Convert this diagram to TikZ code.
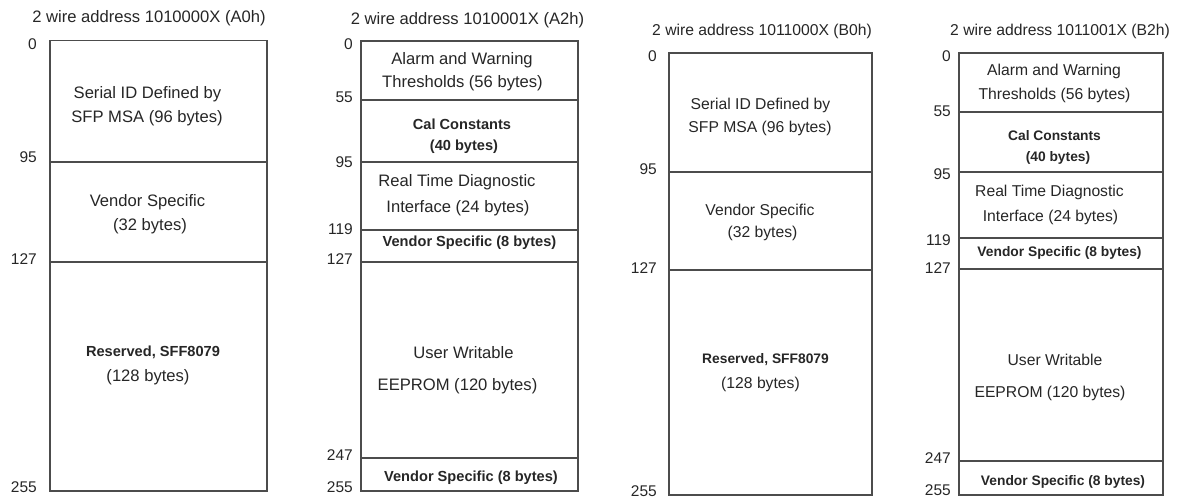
\documentclass[tikz,border=0pt]{standalone}
\usepackage{fontspec}
\setmainfont{Liberation Sans}
\begin{document}
\begin{tikzpicture}[x=1pt,y=-1pt,
  box/.style={draw=black!70, line width=1.2pt},
  txA/.style={anchor=base, text=black!85, font=\fontsize{16.6}{18}\selectfont, inner sep=0pt},
  bfA/.style={anchor=base, text=black!85, font=\fontsize{14.6}{16}\selectfont\bfseries, inner sep=0pt},
  txB/.style={anchor=base, text=black!85, font=\fontsize{15.7}{17}\selectfont, inner sep=0pt},
  bfB/.style={anchor=base, text=black!85, font=\fontsize{13.8}{15}\selectfont\bfseries, inner sep=0pt},
  num/.style={anchor=base east, text=black!85, font=\fontsize{15.5}{17}\selectfont, inner sep=0pt}]
\useasboundingbox (0,0) rectangle (1178,497);

% ---------- Panel 1 (A0h)
\draw[box] (50,40.5) rectangle (267,491);
\foreach \yy in {162,262} \draw[box] (50,\yy) -- (267,\yy);
\node[txA] (t1) at (149,23) {2 wire address 1010000X (A0h)};
\node[txA] (a1) at (147.5,98.5) {Serial ID Defined by};
\node[txA] (a2) at (147,122.7) {SFP MSA (96 bytes)};
\node[txA] (a3) at (147.5,206.7) {Vendor Specific};
\node[txA] (a4) at (150,230.5) {(32 bytes)};
\node[bfA] (a5) at (153,356.7) {Reserved, SFF8079};
\node[txA] (a6) at (148,381.7) {(128 bytes)};
\node[num] (n10) at (37,50) {0};
\node[num] (n11) at (37,163) {95};
\node[num] (n12) at (37,265) {127};
\node[num] (n13) at (37,492) {255};

% ---------- Panel 2 (A2h)
\draw[box] (361,41) rectangle (578,491);
\foreach \yy in {100,162,230,262,458} \draw[box] (361,\yy) -- (578,\yy);
\node[txA] (t2) at (467.5,25) {2 wire address 1010001X (A2h)};
\node[txA] (b1) at (462,64.3) {Alarm and Warning};
\node[txA] (b2) at (462.5,87.7) {Thresholds (56 bytes)};
\node[bfA] (b3) at (462,130) {Cal Constants};
\node[bfA] (b4) at (464,151) {(40 bytes)};
\node[txA] (b5) at (457,186.7) {Real Time Diagnostic};
\node[txA] (b6) at (458,212.7) {Interface (24 bytes)};
\node[bfA] (b7) at (469.5,246.7) {Vendor Specific (8 bytes)};
\node[txA] (b8) at (463.5,358) {User Writable};
\node[txA] (b9) at (457.5,390) {EEPROM (120 bytes)};
\node[bfA] (b10) at (471,481) {Vendor Specific (8 bytes)};
\node[num] (n20) at (353,50) {0};
\node[num] (n21) at (353,103) {55};
\node[num] (n22) at (353,168) {95};
\node[num] (n23) at (353,235) {119};
\node[num] (n24) at (353,265) {127};
\node[num] (n25) at (353,460) {247};
\node[num] (n26) at (353,492) {255};

% ---------- Panel 3 (B0h)
\draw[box] (669,53) rectangle (872,495);
\foreach \yy in {172,270} \draw[box] (669,\yy) -- (872,\yy);
\node[txB] (t3) at (762,36) {2 wire address 1011000X (B0h)};
\node[txB] (c1) at (760.5,110) {Serial ID Defined by};
\node[txB] (c2) at (760,133) {SFP MSA (96 bytes)};
\node[txB] (c3) at (760,215) {Vendor Specific};
\node[txB] (c4) at (762.5,238) {(32 bytes)};
\node[bfB] (c5) at (765.5,363) {Reserved, SFF8079};
\node[txB] (c6) at (760.5,388) {(128 bytes)};
\node[num] (n30) at (657,62) {0};
\node[num] (n31) at (657,175) {95};
\node[num] (n32) at (657,273) {127};
\node[num] (n33) at (657,496) {255};

% ---------- Panel 4 (B2h)
\draw[box] (959,53) rectangle (1163,495);
\foreach \yy in {112,172,238,269,461} \draw[box] (959,\yy) -- (1163,\yy);
\node[txB] (t4) at (1060,36) {2 wire address 1011001X (B2h)};
\node[txB] (d1) at (1054,76) {Alarm and Warning};
\node[txB] (d2) at (1054.5,100) {Thresholds (56 bytes)};
\node[bfB] (d3) at (1054.5,141) {Cal Constants};
\node[bfB] (d4) at (1058,162) {(40 bytes)};
\node[txB] (d5) at (1049.5,197) {Real Time Diagnostic};
\node[txB] (d6) at (1050.5,222) {Interface (24 bytes)};
\node[bfB] (d7) at (1059.5,257) {Vendor Specific (8 bytes)};
\node[txB] (d8) at (1055,365) {User Writable};
\node[txB] (d9) at (1050,397) {EEPROM (120 bytes)};
\node[bfB] (d10) at (1063,485) {Vendor Specific (8 bytes)};
\node[num] (n40) at (951,62) {0};
\node[num] (n41) at (951,117) {55};
\node[num] (n42) at (951,180) {95};
\node[num] (n43) at (951,245) {119};
\node[num] (n44) at (951,273) {127};
\node[num] (n45) at (951,463) {247};
\node[num] (n46) at (951,495) {255};
\end{tikzpicture}
\end{document}
